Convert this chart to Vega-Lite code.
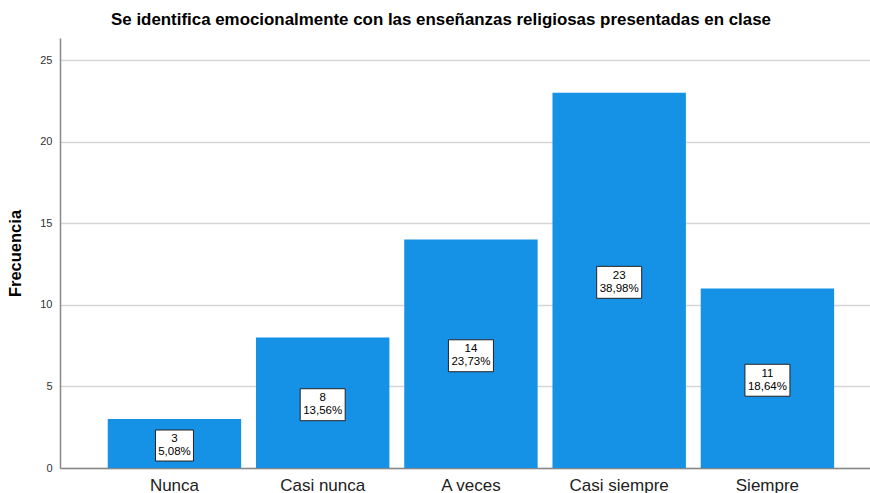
{
  "$schema": "https://vega.github.io/schema/vega-lite/v6.json",
  "autosize": "none",
  "padding": {"left": 60, "top": 38, "right": 0, "bottom": 25},
  "width": 810,
  "height": 430,
  "background": "white",
  "title": {
    "text": "Se identifica emocionalmente con las enseñanzas religiosas presentadas en clase",
    "font": "Liberation Sans",
    "fontSize": 16.9,
    "fontWeight": "bold",
    "color": "#000000",
    "anchor": "middle",
    "dx": -24,
    "offset": 9
  },
  "config": {
    "view": {"stroke": null},
    "font": "Liberation Sans"
  },
  "data": {
    "values": [
      {"category": "Nunca", "count": 3, "pct": "5,08%"},
      {"category": "Casi nunca", "count": 8, "pct": "13,56%"},
      {"category": "A veces", "count": 14, "pct": "23,73%"},
      {"category": "Casi siempre", "count": 23, "pct": "38,98%"},
      {"category": "Siempre", "count": 11, "pct": "18,64%"}
    ]
  },
  "encoding": {
    "x": {
      "field": "category",
      "type": "nominal",
      "sort": null,
      "scale": {"paddingInner": 0.1, "paddingOuter": 0.282, "align": 0.571},
      "axis": {
        "title": null,
        "labelAngle": 0,
        "labelFont": "Liberation Sans",
        "labelFontSize": 17,
        "labelColor": "#222222",
        "labelPadding": 9,
        "ticks": false,
        "domainColor": "#888888",
        "domainWidth": 1.5
      }
    }
  },
  "layer": [
    {
      "mark": {"type": "bar", "color": "#1592e6"},
      "encoding": {
        "y": {
          "field": "count",
          "type": "quantitative",
          "scale": {"domain": [0, 26.35], "nice": false},
          "axis": {
            "title": "Frecuencia",
            "titleFont": "Liberation Sans",
            "titleFontSize": 16.5,
            "titleFontWeight": "bold",
            "titleColor": "#000000",
            "titlePadding": 16,
            "values": [0, 5, 10, 15, 20, 25],
            "labelFont": "Liberation Sans",
            "labelFontSize": 11,
            "labelColor": "#333333",
            "labelPadding": 8,
            "ticks": false,
            "domainColor": "#888888",
            "domainWidth": 1.5,
            "grid": true,
            "gridColor": "#d6d6d6",
            "gridWidth": 1.5
          }
        }
      }
    },
    {
      "mark": {"type": "point", "filled": true, "fill": "white", "stroke": "#222222", "strokeWidth": 1, "opacity": 1, "yOffset": 2},
      "encoding": {
        "y": {"field": "count", "type": "quantitative", "scale": {"domain": [0, 52.7], "nice": false}, "axis": null},
        "shape": {
          "condition": {"test": "length(datum.pct) < 6", "value": "M-0.844,-0.69L0.844,-0.69L0.844,0.69L-0.844,0.69Z"},
          "value": "M-1,-0.71L1,-0.71L1,0.71L-1,0.71Z"
        },
        "size": {"value": 2025}
      }
    },
    {
      "mark": {"type": "text", "font": "Liberation Sans", "fontSize": 11.5, "color": "#000000", "dy": -4.3, "baseline": "middle"},
      "encoding": {
        "y": {"field": "count", "type": "quantitative", "scale": {"domain": [0, 52.7], "nice": false}, "axis": null},
        "text": {"field": "count", "type": "quantitative"}
      }
    },
    {
      "mark": {"type": "text", "font": "Liberation Sans", "fontSize": 11.5, "color": "#000000", "dy": 8.3, "baseline": "middle"},
      "encoding": {
        "y": {"field": "count", "type": "quantitative", "scale": {"domain": [0, 52.7], "nice": false}, "axis": null},
        "text": {"field": "pct", "type": "nominal"}
      }
    }
  ],
  "resolve": {"scale": {"y": "independent"}}
}
